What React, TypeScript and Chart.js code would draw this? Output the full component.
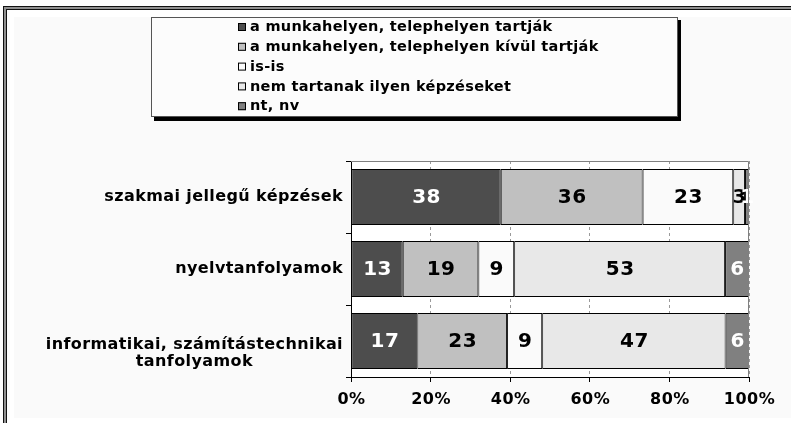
import React, { useEffect, useRef } from "react";
import { Chart, registerables } from "chart.js";

Chart.register(...registerables);

const categories: (string | string[])[] = [
  "szakmai jellegű képzések",
  "nyelvtanfolyamok",
  ["informatikai, számítástechnikai", "tanfolyamok"],
];

const seriesNames = [
  "a munkahelyen, telephelyen tartják",
  "a munkahelyen, telephelyen kívül tartják",
  "is-is",
  "nem tartanak ilyen képzéseket",
  "nt, nv",
];

const onSite = [38, 13, 17];
const offSite = [36, 19, 23];
const both = [23, 9, 9];
const none = [3, 53, 47];
const noAnswer = [1, 6, 6];

const xTickValues = [0, 20, 40, 60, 80, 100];

const seriesColors = ["#4d4d4d", "#c0c0c0", "#fafafa", "#e8e8e8", "#808080"];
const labelColors = ["#ffffff", "#000000", "#000000", "#000000", "#ffffff"];

const FONT = "'DejaVu Sans', Verdana, sans-serif";

const framePlugin = {
  id: "frame",
  beforeDraw(chart: any) {
    const ctx = chart.ctx;
    const W = chart.width;
    const H = chart.height;
    ctx.save();
    ctx.fillStyle = "#ffffff";
    ctx.fillRect(0, 0, W, H);
    ctx.fillStyle = "#fafafa";
    ctx.fillRect(14, 17, W - 14, H - 22);
    // outer double frame (left & top)
    ctx.fillStyle = "#111111";
    ctx.fillRect(3, 6, 4, H - 6);
    ctx.fillRect(3, 6, W - 3, 4);
    ctx.fillStyle = "#909090";
    ctx.fillRect(4, 7, 2, H - 7);
    ctx.fillRect(4, 7, W - 4, 2);
    // legend box with shadow
    const lx = 151, ly = 17, lw = 527, lh = 100;
    ctx.fillStyle = "#000000";
    ctx.fillRect(lx + 3, ly + 3, lw, lh + 1);
    ctx.fillStyle = "#fcfcfc";
    ctx.fillRect(lx, ly, lw, lh);
    ctx.strokeStyle = "#555555";
    ctx.lineWidth = 1;
    ctx.strokeRect(lx + 0.5, ly + 0.5, lw - 1, lh - 1);
    // legend items
    ctx.font = `bold 14.5px ${FONT}`;
    (ctx as any).letterSpacing = "0.3px";
    ctx.textBaseline = "middle";
    ctx.textAlign = "left";
    chart.data.datasets.forEach((ds: any, i: number) => {
      const cy = 27 + i * 19.8;
      ctx.fillStyle = ds.backgroundColor;
      ctx.fillRect(238, cy - 4, 8, 8);
      ctx.strokeStyle = "#000000";
      ctx.strokeRect(238.5, cy - 3.5, 7, 7);
      ctx.fillStyle = "#000000";
      ctx.fillText(ds.label, 250, cy + 0.5);
    });
    (ctx as any).letterSpacing = "0px";
    // plot area background
    const a = chart.chartArea;
    ctx.fillStyle = "#ffffff";
    ctx.fillRect(a.left, a.top, a.right - a.left, a.bottom - a.top);
    ctx.restore();
  },
  afterDraw(chart: any) {
    const ctx = chart.ctx;
    const a = chart.chartArea;
    ctx.save();
    ctx.strokeStyle = "#808080";
    ctx.lineWidth = 1;
    ctx.beginPath();
    ctx.moveTo(a.left, a.top + 0.5);
    ctx.lineTo(a.right - 0.5, a.top + 0.5);
    ctx.lineTo(a.right - 0.5, a.bottom);
    ctx.stroke();
    // category labels
    const yScale = chart.scales.y;
    ctx.font = `bold 16px ${FONT}`;
    (ctx as any).letterSpacing = "0.4px";
    ctx.fillStyle = "#000000";
    ctx.textBaseline = "middle";
    ctx.textAlign = "center";
    chart.data.labels.forEach((lab: any, i: number) => {
      const lines = Array.isArray(lab) ? lab : [lab];
      const maxW = Math.max(...lines.map((l: string) => ctx.measureText(l).width));
      const cx = a.left - 8 - maxW / 2;
      const cy = yScale.getPixelForValue(i);
      const start = lines.length > 1 ? cy + 4 : cy;
      lines.forEach((l: string, j: number) => {
        ctx.fillText(l, cx, start + j * 17);
      });
    });
    ctx.restore();
  },
};

const valueLabelPlugin = {
  id: "valueLabels",
  afterDatasetsDraw(chart: any) {
    const ctx = chart.ctx;
    ctx.save();
    ctx.font = `bold 20px ${FONT}`;
    (ctx as any).letterSpacing = "0.5px";
    ctx.textAlign = "center";
    ctx.textBaseline = "middle";
    chart.data.datasets.forEach((ds: any, di: number) => {
      const meta = chart.getDatasetMeta(di);
      meta.data.forEach((el: any, i: number) => {
        const cx = (el.x + el.base) / 2;
        ctx.fillStyle = labelColors[di];
        ctx.fillText(String(ds.rawValues[i]), cx + 0.5, el.y + 1);
      });
    });
    ctx.restore();
  },
};

const xLabelPlugin = {
  id: "xLabels",
  afterDraw(chart: any) {
    const ctx = chart.ctx;
    const xs = chart.scales.x;
    ctx.save();
    ctx.font = `bold 16px ${FONT}`;
    (ctx as any).letterSpacing = "0.5px";
    ctx.fillStyle = "#000000";
    ctx.textAlign = "center";
    ctx.textBaseline = "middle";
    xTickValues.forEach((v) => {
      ctx.fillText(`${v}%`, xs.getPixelForValue(v) + 0.5, 400);
    });
    ctx.restore();
  },
};

export default function App() {
  const ref = useRef<HTMLCanvasElement | null>(null);
  useEffect(() => {
    document.body.style.margin = "0";
    const series = [onSite, offSite, both, none, noAnswer];
    const totals = categories.map((_, i) => series.reduce((s, arr) => s + arr[i], 0));
    const datasets = series.map((arr, si) => ({
      label: seriesNames[si],
      data: arr.map((v, i) => (v / totals[i]) * 100),
      rawValues: arr,
      backgroundColor: seriesColors[si],
      borderColor: "#000000",
      borderWidth: 1,
      borderSkipped: false,
      barPercentage: 0.78,
      categoryPercentage: 1,
    }));
    const chart = new Chart(ref.current as HTMLCanvasElement, {
      type: "bar",
      data: { labels: categories as any, datasets: datasets as any },
      options: {
        indexAxis: "y",
        animation: false,
        responsive: false,
        layout: { padding: { left: 0, right: 42, top: 161, bottom: 0 } },
        plugins: { legend: { display: false }, tooltip: { enabled: false } },
        scales: {
          x: {
            type: "linear",
            stacked: true,
            min: 0,
            max: 100,
            afterBuildTicks: (scale: any) => {
              scale.ticks = xTickValues.map((v) => ({ value: v }));
            },
            afterFit: (scale: any) => {
              scale.height = 46;
            },
            ticks: {
              display: false,
            },
            grid: {
              color: "#9a9a9a",
              tickColor: "#000000",
              tickLength: 5,
              tickBorderDash: [],
            },
            border: { color: "#000000", width: 1, dash: [3, 3] },
          },
          y: {
            type: "category",
            stacked: true,
            offset: true,
            afterFit: (scale: any) => {
              scale.width = 351;
            },
            ticks: { display: false },
            grid: {
              offset: true,
              drawOnChartArea: false,
              tickLength: 5,
              color: "#000000",
              tickColor: "#000000",
            },
            border: { color: "#000000", width: 1 },
          },
        },
      },
      plugins: [framePlugin, valueLabelPlugin, xLabelPlugin],
    });
    return () => chart.destroy();
  }, []);
  return <canvas ref={ref} width={791} height={423} style={{ display: "block" }} />;
}
